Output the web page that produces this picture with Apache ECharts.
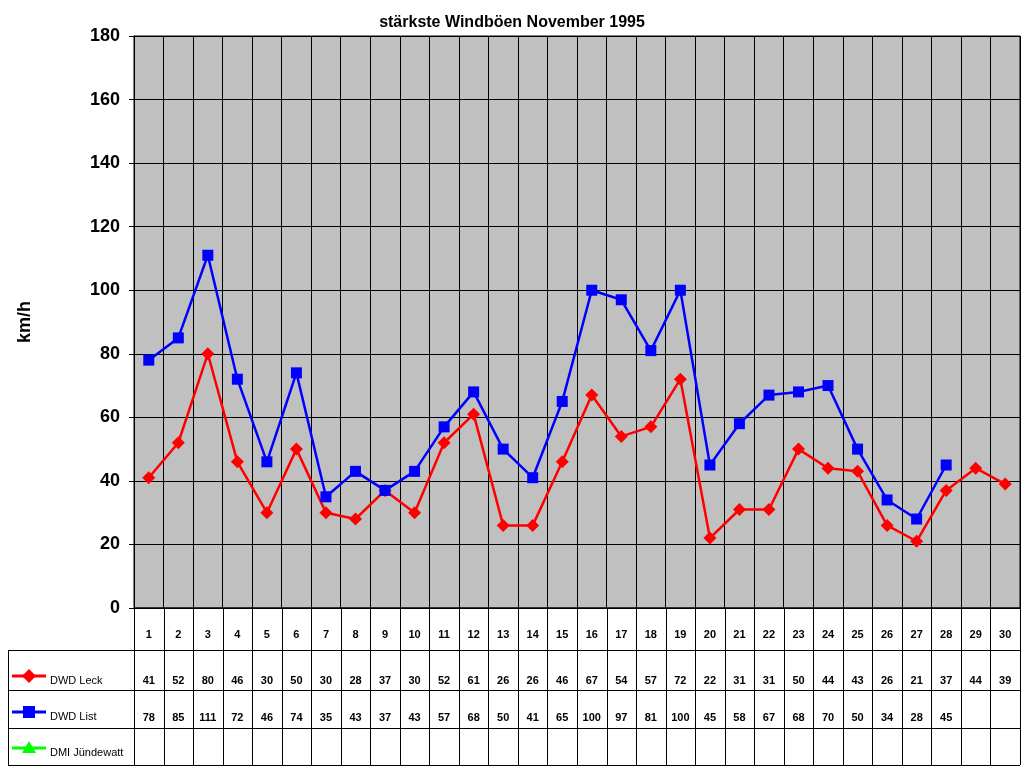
<!DOCTYPE html>
<html><head><meta charset="utf-8">
<script src="https://cdn.jsdelivr.net/npm/echarts@6/dist/echarts.min.js"></script>
<style>html,body{margin:0;padding:0;background:#fff}#c{width:1024px;height:768px}</style>
</head><body><div id="c"></div>
<script>
const days = ['1','2','3','4','5','6','7','8','9','10','11','12','13','14','15','16','17','18','19','20','21','22','23','24','25','26','27','28','29','30'];
const leck = [41,52,80,46,30,50,30,28,37,30,52,61,26,26,46,67,54,57,72,22,31,31,50,44,43,26,21,37,44,39];
const list = [78,85,111,72,46,74,35,43,37,43,57,68,50,41,65,100,97,81,100,45,58,67,68,70,50,34,28,45,null,null];
const dmi = [null,null,null,null,null,null,null,null,null,null,null,null,null,null,null,null,null,null,null,null,null,null,null,null,null,null,null,null,null,null];
const yTicks = {min:0,max:180,interval:20};

const chart = echarts.init(document.getElementById('c'));
const L=134,R=1020,T=36,B=608;
chart.setOption({
  animation:false,
  title:{text:'stärkste Windböen November 1995',left:'center',top:10,textStyle:{fontFamily:'Arial',fontWeight:'bold',fontSize:16,color:'#000'}},
  grid:{left:L,right:1024-R,top:T,bottom:768-B,show:true,backgroundColor:'#C0C0C0',borderColor:'#000',borderWidth:1},
  xAxis:{type:'category',data:days,boundaryGap:true,axisLabel:{show:false},axisTick:{show:false},
    axisLine:{lineStyle:{color:'#000'}},splitLine:{show:true,interval:0,lineStyle:{color:'#000',width:1}}},
  yAxis:{type:'value',min:yTicks.min,max:yTicks.max,interval:yTicks.interval,name:'km/h',nameLocation:'middle',nameGap:100,nameRotate:90,
    nameTextStyle:{fontFamily:'Arial',fontWeight:'bold',fontSize:18,color:'#000'},
    axisLabel:{fontFamily:'Arial',fontWeight:'bold',fontSize:18,color:'#000',margin:14},
    axisLine:{show:true,lineStyle:{color:'#000'}},axisTick:{show:true,length:5,lineStyle:{color:'#000'}},
    splitLine:{lineStyle:{color:'#000',width:1}}},
  series:[
    {name:'DWD Leck',type:'line',data:leck,symbol:'diamond',symbolSize:13,itemStyle:{color:'#FF0000'},lineStyle:{color:'#FF0000',width:2.5}},
    {name:'DWD List',type:'line',data:list,symbol:'rect',symbolSize:11,itemStyle:{color:'#0000FF'},lineStyle:{color:'#0000FF',width:2.5}},
    {name:'DMI Jündewatt',type:'line',data:dmi,symbol:'triangle',symbolSize:12,itemStyle:{color:'#00FF00'},lineStyle:{color:'#00FF00',width:2.5}}
  ]
});
// table
const rows=[608,650,690,728,765];
const g=[];
const ln=(x1,y1,x2,y2)=>g.push({type:'line',shape:{x1,y1,x2,y2},style:{stroke:'#000',lineWidth:1}});
const step = chart.convertToPixel({xAxisIndex:0},'2')-chart.convertToPixel({xAxisIndex:0},'1');
for(let i=0;i<=days.length;i++){const x=Math.round(L+i*step)+0.5; ln(x,608,x,765);}
ln(L,608,R,608);
for(let k=1;k<rows.length;k++) ln(8,rows[k]+0.5,R,rows[k]+0.5);
ln(8.5,650,8.5,765);
const txt=(x,y,t)=>g.push({type:'text',x,y,style:{text:t,fontFamily:'Arial',fontWeight:'bold',fontSize:11,fill:'#000',align:'center',verticalAlign:'middle'}});
days.forEach((d,i)=>{const x=chart.convertToPixel({xAxisIndex:0},d);
  txt(x,635,d);
  if(leck[i]!=null) txt(x,681,String(leck[i]));
  if(list[i]!=null) txt(x,718,String(list[i]));
  if(dmi[i]!=null) txt(x,755,String(dmi[i]));
});
const leg=[['DWD Leck','#FF0000','diamond',676],['DWD List','#0000FF','rect',712],['DMI Jündewatt','#00FF00','triangle',748]];
leg.forEach(([n,c,s,y])=>{
  g.push({type:'line',shape:{x1:12,y1:y,x2:46,y2:y},style:{stroke:c,lineWidth:3}});
  if(s==='diamond') g.push({type:'polygon',shape:{points:[[29,y-7],[36,y],[29,y+7],[22,y]]},style:{fill:c}});
  if(s==='rect') g.push({type:'rect',shape:{x:23,y:y-6,width:12,height:12},style:{fill:c}});
  if(s==='triangle') g.push({type:'polygon',shape:{points:[[29,y-7],[36,y+5],[22,y+5]]},style:{fill:c}});
  g.push({type:'text',x:50,y:y+5,style:{text:n,fontFamily:'Arial',fontSize:11,fill:'#000',verticalAlign:'middle'}});
});
chart.setOption({graphic:g});
</script></body></html>
